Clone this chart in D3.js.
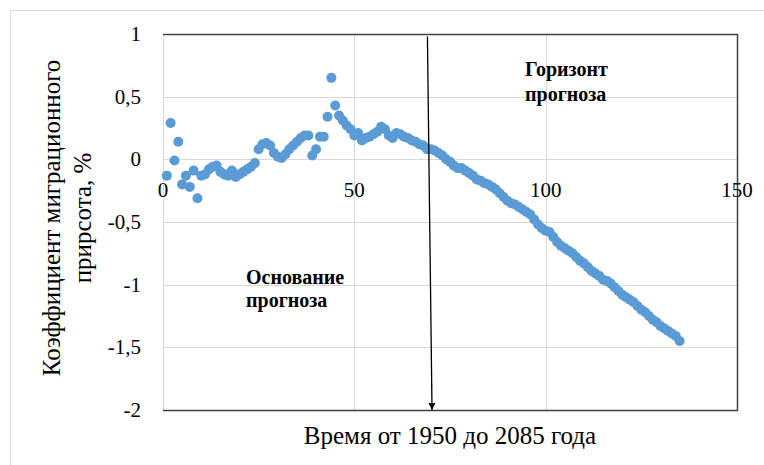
<!DOCTYPE html>
<html>
<head>
<meta charset="utf-8">
<script src="https://cdn.jsdelivr.net/npm/d3@7"></script>
<style>
  body { margin: 0; background: #fff; }
  svg text { font-family: "Liberation Serif", "Times New Roman", serif; fill: #000; }
  .grid line { stroke: #d9d9d9; stroke-width: 1; }
  .note { font-weight: bold; font-size: 20px; }
</style>
</head>
<body>
<script>
//W and H
var w = 764;
var h = 465;

//plot box (window.top is taken, so own names)
var padL = 163, padR = 737, padT = 34, padB = 410;

//years since 1950
var years = [
  1, 2, 3, 4, 5, 6, 7, 8, 9, 10, 11, 12, 13, 14, 15, 16, 17, 18, 19, 20,
  21, 22, 23, 24, 25, 26, 27, 28, 29, 30, 31, 32, 33, 34, 35, 36, 37, 38, 39, 40,
  41, 42, 43, 44, 45, 46, 47, 48, 49, 50, 51, 52, 53, 54, 55, 56, 57, 58, 59, 60,
  61, 62, 63, 64, 65, 66, 67, 68, 69, 70, 71, 72, 73, 74, 75, 76, 77, 78, 79, 80,
  81, 82, 83, 84, 85, 86, 87, 88, 89, 90, 91, 92, 93, 94, 95, 96, 97, 98, 99, 100,
  101, 102, 103, 104, 105, 106, 107, 108, 109, 110, 111, 112, 113, 114, 115, 116, 117, 118, 119, 120,
  121, 122, 123, 124, 125, 126, 127, 128, 129, 130, 131, 132, 133, 134, 135
];

//migration growth coefficient, %
var migration = [
  -0.13, 0.29, -0.01, 0.14, -0.20, -0.13, -0.22, -0.09, -0.31, -0.13,
  -0.12, -0.08, -0.06, -0.05, -0.10, -0.12, -0.13, -0.09, -0.14, -0.12,
  -0.10, -0.08, -0.06, -0.03, 0.08, 0.12, 0.13, 0.11, 0.05, 0.02,
  0.01, 0.04, 0.08, 0.11, 0.14, 0.17, 0.19, 0.19, 0.03, 0.08,
  0.18, 0.18, 0.34, 0.65, 0.43, 0.35, 0.31, 0.27, 0.24, 0.19,
  0.21, 0.15, 0.17, 0.18, 0.20, 0.22, 0.26, 0.24, 0.19, 0.17,
  0.21, 0.20, 0.18, 0.17, 0.15, 0.14, 0.12, 0.11, 0.08, 0.08,
  0.07, 0.05, 0.03, 0.00, -0.02, -0.05, -0.07, -0.07, -0.09, -0.11,
  -0.13, -0.16, -0.17, -0.19, -0.20, -0.22, -0.24, -0.27, -0.30, -0.33,
  -0.35, -0.36, -0.38, -0.40, -0.42, -0.44, -0.48, -0.52, -0.55, -0.57,
  -0.58, -0.62, -0.66, -0.69, -0.71, -0.73, -0.75, -0.78, -0.81, -0.83,
  -0.86, -0.89, -0.91, -0.93, -0.96, -0.97, -0.99, -1.02, -1.05, -1.08,
  -1.10, -1.12, -1.14, -1.17, -1.20, -1.22, -1.25, -1.28, -1.30, -1.33,
  -1.35, -1.37, -1.39, -1.41, -1.45
];

//tick labels
var xTicks = [0, 50, 100, 150];
var yTicks = [1, 0.5, 0, -0.5, -1, -1.5, -2];

//forecast base line (arrow), in data coords
var arrowX = [69.1, 70.3];
var arrowY = [0.98, -2];

var fmt = function(d) { return String(d).replace(".", ","); };

var dataset = years.map(function(d, i) { return { t: d, v: migration[i] }; });

//Scales
var x = d3.scaleLinear().domain([0, 150]).range([padL, padR]);
var y = d3.scaleLinear().domain([-2, 1]).range([padB, padT]);

//SVG
var svg = d3.select("body")
    .append("svg")
    .attr("width", w)
    .attr("height", h);

//outer frame
svg.append("rect")
    .attr("x", 10.5).attr("y", 10.5)
    .attr("width", 800).attr("height", 500)
    .attr("fill", "none")
    .attr("stroke", "#d9d9d9");

//gridlines
var grid = svg.append("g").attr("class", "grid");
grid.selectAll(".hy")
    .data(yTicks)
    .enter().append("line")
    .attr("x1", padL).attr("x2", padR)
    .attr("y1", function(d) { return Math.round(y(d)) + 0.5; })
    .attr("y2", function(d) { return Math.round(y(d)) + 0.5; });
grid.selectAll(".vx")
    .data(xTicks)
    .enter().append("line")
    .attr("y1", padT).attr("y2", padB)
    .attr("x1", function(d) { return Math.round(x(d)) + 0.5; })
    .attr("x2", function(d) { return Math.round(x(d)) + 0.5; });

//plot border: top, right, bottom dark
svg.append("path")
    .attr("d", "M" + padL + "," + (padT + 0.5) + "H" + (padR + 0.5) + "V" + (padB + 0.5) + "H" + padL)
    .attr("fill", "none")
    .attr("stroke", "#404040")
    .attr("stroke-width", 1.5);

//points
svg.append("g")
    .selectAll("circle")
    .data(dataset)
    .enter().append("circle")
    .attr("cx", function(d) { return x(d.t); })
    .attr("cy", function(d) { return y(d.v); })
    .attr("r", 5)
    .attr("fill", "#5b9bd5");

//y tick labels
svg.append("g")
    .selectAll("text")
    .data(yTicks)
    .enter().append("text")
    .attr("x", 141)
    .attr("y", function(d) { return y(d) + 7; })
    .attr("text-anchor", "end")
    .attr("font-size", "21px")
    .text(fmt);

//x tick labels sit under the zero line
svg.append("g")
    .selectAll("text")
    .data(xTicks)
    .enter().append("text")
    .attr("x", function(d) { return x(d); })
    .attr("y", y(0) + 38)
    .attr("text-anchor", "middle")
    .attr("font-size", "21px")
    .text(fmt);

//arrow marker
svg.append("defs").append("marker")
    .attr("id", "arr")
    .attr("viewBox", "0 0 10 10")
    .attr("refX", 10).attr("refY", 5)
    .attr("markerWidth", 7).attr("markerHeight", 9)
    .attr("markerUnits", "userSpaceOnUse")
    .attr("orient", "auto")
    .append("path")
    .attr("d", "M0,0L10,5L0,10Z")
    .attr("fill", "#000");

svg.append("line")
    .attr("x1", x(arrowX[0])).attr("y1", y(arrowY[0]))
    .attr("x2", x(arrowX[1])).attr("y2", y(arrowY[1]))
    .attr("stroke", "#000")
    .attr("stroke-width", 1.3)
    .attr("marker-end", "url(#arr)");

//annotations
svg.append("text").attr("class", "note").attr("x", 525).attr("y", 76).text("Горизонт");
svg.append("text").attr("class", "note").attr("x", 525).attr("y", 101).text("прогноза");
svg.append("text").attr("class", "note").attr("x", 246).attr("y", 284).text("Основание");
svg.append("text").attr("class", "note").attr("x", 246).attr("y", 307).text("прогноза");

//axis titles
svg.append("text")
    .attr("x", (padL + padR) / 2)
    .attr("y", 444)
    .attr("text-anchor", "middle")
    .attr("font-size", "25px")
    .text("Время от 1950 до 2085 года");

var yt = svg.append("text")
    .attr("transform", "translate(60,218) rotate(-90)")
    .attr("text-anchor", "middle")
    .attr("font-size", "25px");
yt.append("tspan").attr("x", 0).attr("dy", 0).text("Коэффициент миграционного");
yt.append("tspan").attr("x", 0).attr("dy", 31).text("прирсота, %");
</script>
</body>
</html>
